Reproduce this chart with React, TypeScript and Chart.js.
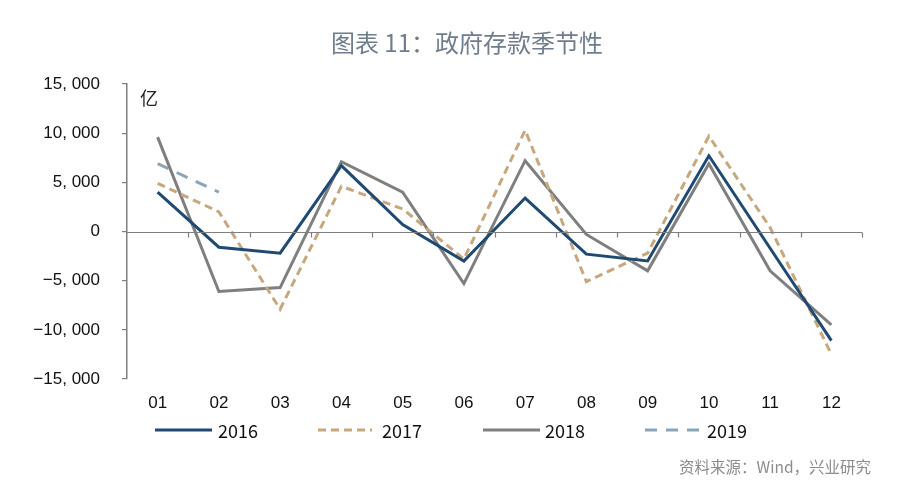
import React, { useEffect, useRef } from "react";
import { Chart, registerables } from "chart.js";

Chart.register(...registerables);

const months = ["01", "02", "03", "04", "05", "06", "07", "08", "09", "10", "11", "12"];
const s2016 = [4000, -1600, -2200, 6700, 700, -3000, 3400, -2300, -3000, 7700, -1700, -11100];
const s2017 = [4900, 2000, -7900, 4600, 2300, -2800, 10300, -5100, -2200, 9700, 400, -12500];
const s2018 = [9600, -6100, -5700, 7100, 4000, -5300, 7200, -300, -4000, 6900, -4000, -9500];
const s2019 = [6900, 4000, null, null, null, null, null, null, null, null, null, null];
const seriesNames = ["2016", "2017", "2018", "2019"];
const yTicks = [-15000, -10000, -5000, 0, 5000, 10000, 15000];

const titleText = "图表 11：政府存款季节性";
const sourceText = "资料来源：Wind，兴业研究";
const unitText = "亿";

const colors = ["#1F4A73", "#C8A77C", "#7F7F7F", "#8AA5BA"];
const dashes: number[][] = [[], [8, 5], [], [12, 9]];

function fmt(v: number): string {
  if (v === 0) return "0";
  const s = Math.abs(v).toLocaleString("en-US").replace(",", ", ");
  return (v < 0 ? "\u2212" : "") + s;
}

const decorPlugin = {
  id: "decor",
  afterDraw(chart: any) {
    const ctx = chart.ctx;
    const y = chart.scales.y;
    const area = chart.chartArea;
    ctx.save();
    // zero line with ticks
    const y0 = Math.round(y.getPixelForValue(0)) + 0.5;
    ctx.strokeStyle = "#7F7F7F";
    ctx.lineWidth = 1.2;
    ctx.beginPath();
    ctx.moveTo(area.left, y0);
    ctx.lineTo(area.right, y0);
    const n = months.length;
    const w = (area.right - area.left) / n;
    for (let i = 1; i <= n; i++) {
      const px = Math.round(area.left + i * w) + 0.5;
      ctx.moveTo(px, y0);
      ctx.lineTo(px, y0 + 5);
    }
    ctx.stroke();

    // title
    ctx.fillStyle = "#6F7E8E";
    ctx.font = "400 24px 'Noto Sans CJK SC'";
    ctx.textAlign = "center";
    ctx.textBaseline = "middle";
    ctx.fillText(titleText, 467, 43);

    // unit
    ctx.fillStyle = "#222";
    ctx.font = "18px 'Noto Sans CJK SC'";
    ctx.textAlign = "left";
    ctx.fillText(unitText, 140, 98);

    // legend
    const legendItems = [
      { x1: 155, x2: 212, tx: 218 },
      { x1: 318, x2: 372, tx: 382 },
      { x1: 483, x2: 540, tx: 545 },
      { x1: 645, x2: 703, tx: 707 },
    ];
    const ly = 430;
    legendItems.forEach((it, i) => {
      ctx.strokeStyle = colors[i];
      ctx.lineWidth = 3;
      ctx.setLineDash(dashes[i]);
      ctx.beginPath();
      ctx.moveTo(it.x1, ly);
      ctx.lineTo(it.x2, ly);
      ctx.stroke();
      ctx.setLineDash([]);
      ctx.fillStyle = "#111";
      ctx.font = "18px 'Noto Sans CJK SC'";
      ctx.textAlign = "left";
      ctx.fillText(seriesNames[i], it.tx, ly + 1);
    });

    // source
    ctx.fillStyle = "#8C8C8C";
    ctx.font = "15.5px 'Noto Sans CJK SC'";
    ctx.textAlign = "right";
    ctx.fillText(sourceText, 871, 467);
    ctx.restore();
  },
};

export default function App() {
  const ref = useRef<HTMLCanvasElement>(null);
  useEffect(() => {
    if (!ref.current) return;
    const allSeries = [s2016, s2017, s2018, s2019];
    const chart = new Chart(ref.current, {
      type: "line",
      data: {
        labels: months,
        datasets: allSeries.map((d, i) => ({
          label: seriesNames[i],
          data: d,
          borderColor: colors[i],
          backgroundColor: colors[i],
          borderWidth: 3,
          borderDash: dashes[i],
          pointRadius: 0,
          tension: 0,
          fill: false,
          spanGaps: false,
        })),
      },
      options: {
        animation: false,
        responsive: false,
        maintainAspectRatio: false,
        layout: { padding: { left: 0, top: 84, right: 38, bottom: 0 } },
        plugins: {
          legend: { display: false },
          title: { display: false },
          tooltip: { enabled: false },
        },
        scales: {
          x: {
            offset: true,
            grid: { display: false, drawTicks: false },
            border: { display: false },
            ticks: {
              padding: 14,
              color: "#111",
              font: { family: "'Liberation Sans', Arial", size: 17 },
              maxRotation: 0,
            },
            afterFit: (s: any) => {
              s.height = 111;
            },
          },
          y: {
            min: -15000,
            max: 15000,
            afterBuildTicks: (s: any) => {
              s.ticks = yTicks.map((v) => ({ value: v }));
            },
            grid: {
              drawOnChartArea: false,
              drawTicks: true,
              tickLength: 5,
              color: "#7F7F7F",
              lineWidth: 1.2,
            },
            border: { display: true, color: "#7F7F7F", width: 1.5 },
            ticks: {
              padding: 22,
              color: "#111",
              font: { family: "'Liberation Sans', Arial", size: 17 },
              callback: (v: any) => fmt(Number(v)),
            },
            afterFit: (s: any) => {
              s.width = 127;
            },
          },
        },
      },
      plugins: [decorPlugin],
    });
    return () => chart.destroy();
  }, []);
  return (
    <div style={{ position: "fixed", left: 0, top: 0, width: 900, height: 490, background: "#fff" }}>
      <canvas ref={ref} width={900} height={490} style={{ width: 900, height: 490, display: "block" }} />
    </div>
  );
}
